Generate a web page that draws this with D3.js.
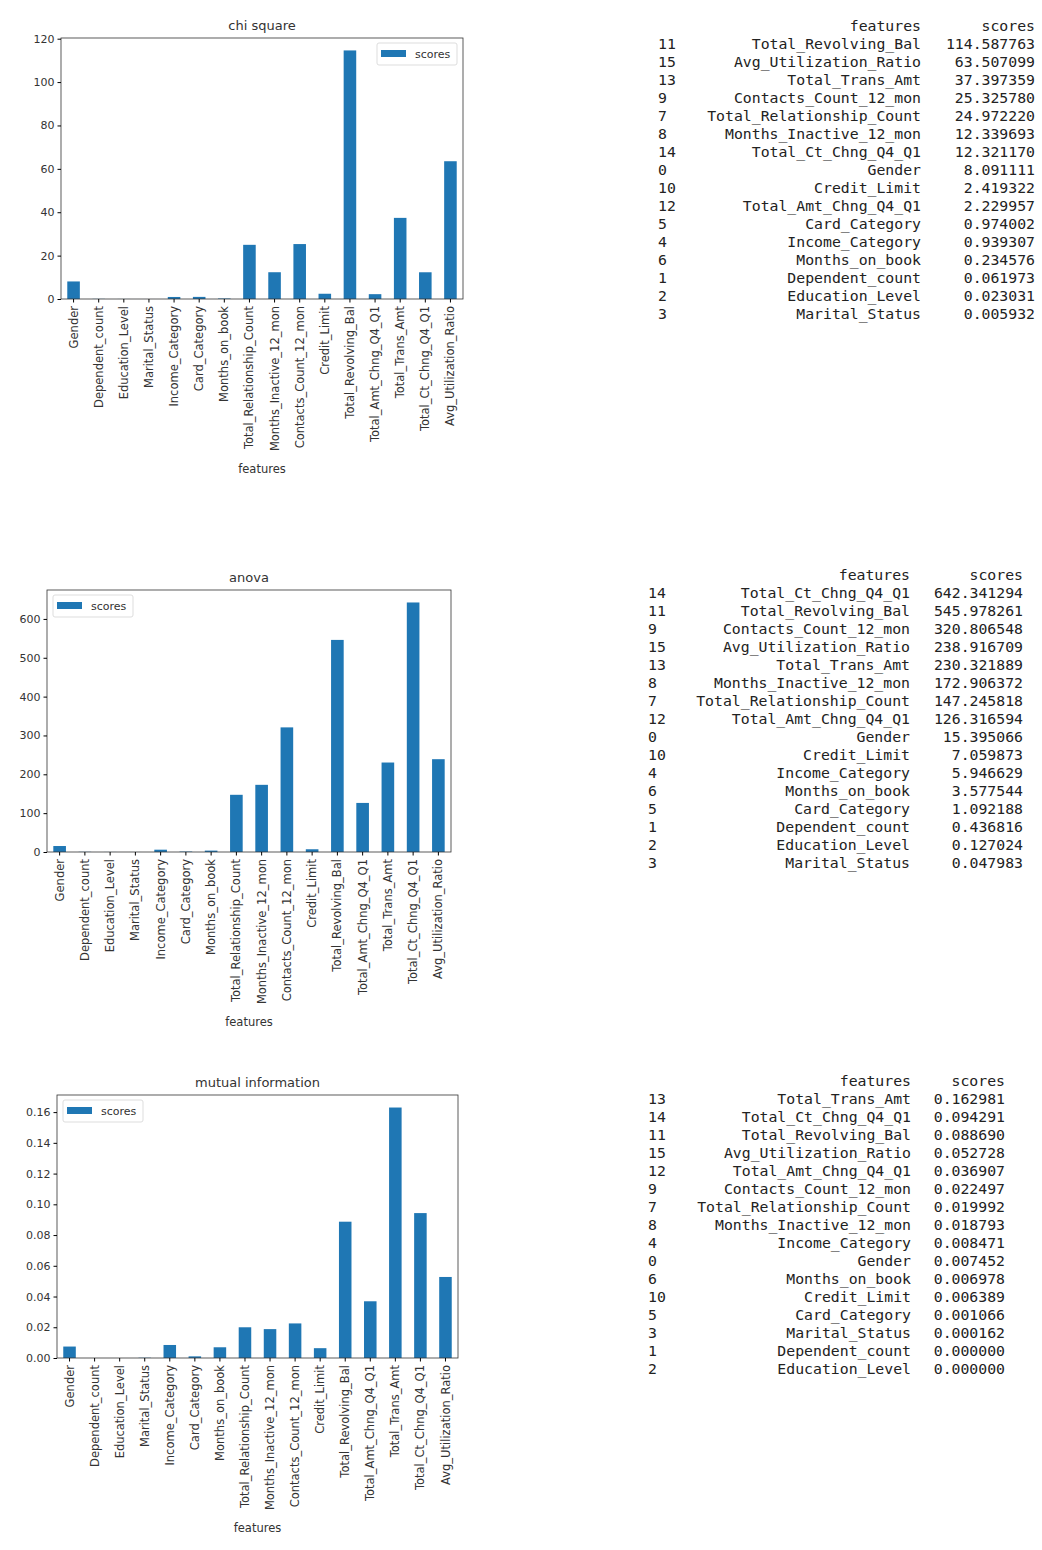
<!DOCTYPE html>
<html>
<head>
<meta charset="UTF-8">
<script src="https://cdn.jsdelivr.net/npm/d3@7"></script>
<style>
  body { margin: 0; background: #fff; }
  text { font-family: "DejaVu Sans", sans-serif; }
  .mono { font-family: "DejaVu Sans Mono", monospace; font-size: 14.8px; fill: #222; }
</style>
</head>
<body>
<svg id="chart" width="1042" height="1550"></svg>
<script>
// feature names by index 0..15
const features = ['Gender', 'Dependent_count', 'Education_Level', 'Marital_Status', 'Income_Category',
  'Card_Category', 'Months_on_book', 'Total_Relationship_Count', 'Months_Inactive_12_mon',
  'Contacts_Count_12_mon', 'Credit_Limit', 'Total_Revolving_Bal', 'Total_Amt_Chng_Q4_Q1',
  'Total_Trans_Amt', 'Total_Ct_Chng_Q4_Q1', 'Avg_Utilization_Ratio'];

const chiScores = [8.091111, 0.061973, 0.023031, 0.005932, 0.939307, 0.974002, 0.234576, 24.972220,
  12.339693, 25.325780, 2.419322, 114.587763, 2.229957, 37.397359, 12.321170, 63.507099];
const anovaScores = [15.395066, 0.436816, 0.127024, 0.047983, 5.946629, 1.092188, 3.577544, 147.245818,
  172.906372, 320.806548, 7.059873, 545.978261, 126.316594, 230.321889, 642.341294, 238.916709];
const miScores = [0.007452, 0.000000, 0.000000, 0.000162, 0.008471, 0.001066, 0.006978, 0.019992,
  0.018793, 0.022497, 0.006389, 0.088690, 0.036907, 0.162981, 0.094291, 0.052728];

const chiTicks = [0, 20, 40, 60, 80, 100, 120];
const anovaTicks = [0, 100, 200, 300, 400, 500, 600];
const miTicks = [0, 0.02, 0.04, 0.06, 0.08, 0.10, 0.12, 0.14, 0.16];

const panels = [
  { title: 'chi square', scores: chiScores, ticks: chiTicks, fmt: d3.format('d'),
    plot: [61, 38, 463, 299], legendRight: true, table: { top: 31, idx: 658, feat: 921, score: 1035 } },
  { title: 'anova', scores: anovaScores, ticks: anovaTicks, fmt: d3.format('d'),
    plot: [47, 590, 451, 852], legendRight: false, table: { top: 580, idx: 648, feat: 910, score: 1023 } },
  { title: 'mutual information', scores: miScores, ticks: miTicks, fmt: d3.format('.2f'),
    plot: [57, 1095, 458, 1358], legendRight: false, table: { top: 1086, idx: 648, feat: 911, score: 1005 } }
];

const svg = d3.select('#chart');
const blue = '#1f77b4';

panels.forEach(p =>
{
  const [x0, y0, x1, y1] = p.plot;
  const g = svg.append('g');
  const x = d3.scaleBand().domain(features).range([x0, x1]).paddingInner(0.5).paddingOuter(0.25);
  const y = d3.scaleLinear().domain([0, d3.max(p.scores) * 1.05]).range([y1, y0]);

  g.selectAll('rect.bar').data(p.scores).enter().append('rect')
    .attr('x', (d, i) => x(features[i]))
    .attr('width', x.bandwidth())
    .attr('y', d => y(d))
    .attr('height', d => y1 - y(d))
    .attr('fill', blue);

  g.append('rect').attr('x', x0).attr('y', y0).attr('width', x1 - x0).attr('height', y1 - y0)
    .attr('fill', 'none').attr('stroke', '#333').attr('stroke-width', 0.8);

  const ya = g.append('g').attr('transform', `translate(${x0},0)`)
    .call(d3.axisLeft(y).tickValues(p.ticks).tickFormat(p.fmt).tickSize(3.5));
  ya.select('.domain').remove();
  ya.selectAll('text').attr('font-size', 11).attr('fill', '#333');

  const xa = g.append('g').attr('transform', `translate(0,${y1})`)
    .call(d3.axisBottom(x).tickSize(3.5));
  xa.select('.domain').remove();
  xa.selectAll('text').attr('font-size', 11.5).attr('fill', '#333')
    .attr('transform', 'rotate(-90)').attr('text-anchor', 'end')
    .attr('x', -7).attr('y', 0).attr('dy', '0.35em');

  g.append('text').attr('x', (x0 + x1) / 2).attr('y', y0 - 8).attr('text-anchor', 'middle')
    .attr('font-size', 13).attr('fill', '#333').text(p.title);
  g.append('text').attr('x', (x0 + x1) / 2).attr('y', y1 + 174).attr('text-anchor', 'middle')
    .attr('font-size', 11.5).attr('fill', '#333').text('features');

  // legend
  const lw = 80, lh = 22;
  const lx = p.legendRight ? x1 - lw - 6 : x0 + 6;
  const lg = g.append('g').attr('transform', `translate(${lx},${y0 + 5})`);
  lg.append('rect').attr('width', lw).attr('height', lh).attr('rx', 2)
    .attr('fill', '#fff').attr('stroke', '#ddd');
  lg.append('rect').attr('x', 4).attr('y', 7).attr('width', 25).attr('height', 7).attr('fill', blue);
  lg.append('text').attr('x', 38).attr('y', 15).attr('font-size', 11).attr('fill', '#333').text('scores');

  // sorted table
  const t = p.table;
  const order = d3.range(features.length).sort((a, b) => p.scores[b] - p.scores[a]);
  const tg = svg.append('g');
  tg.append('text').attr('class', 'mono').attr('x', t.feat).attr('y', t.top).attr('text-anchor', 'end').text('features');
  tg.append('text').attr('class', 'mono').attr('x', t.score).attr('y', t.top).attr('text-anchor', 'end').text('scores');
  order.forEach((i, r) =>
  {
    const ty = t.top + 18 * (r + 1);
    tg.append('text').attr('class', 'mono').attr('x', t.idx).attr('y', ty).text(i);
    tg.append('text').attr('class', 'mono').attr('x', t.feat).attr('y', ty).attr('text-anchor', 'end').text(features[i]);
    tg.append('text').attr('class', 'mono').attr('x', t.score).attr('y', ty).attr('text-anchor', 'end').text(p.scores[i].toFixed(6));
  });
});
</script>
</body>
</html>
